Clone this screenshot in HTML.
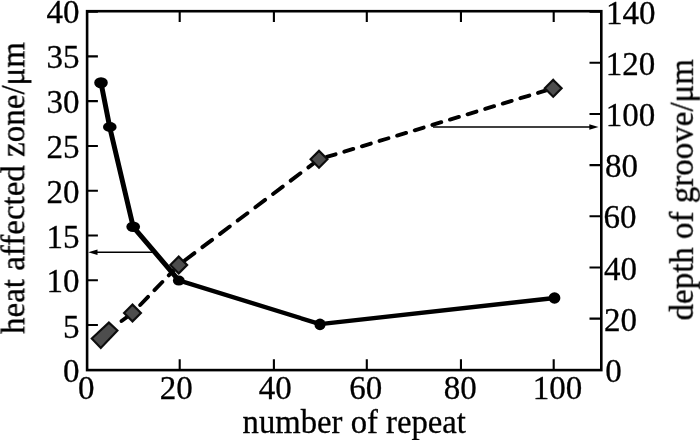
<!DOCTYPE html>
<html><head><meta charset="utf-8"><style>
html,body{margin:0;padding:0;background:#fff;}
svg{display:block;}
text{font-family:'Liberation Serif','Times New Roman',serif;font-size:33px;fill:#000;}
</style></head><body>
<svg width="700" height="440" viewBox="0 0 700 440">
<defs><filter id="b" x="0" y="0" width="700" height="440" filterUnits="userSpaceOnUse"><feGaussianBlur stdDeviation="0.4"/></filter></defs>
<rect width="700" height="440" fill="#fff"/>
<g filter="url(#b)">
<rect x="87.1" y="11.2" width="514.20" height="358.90" fill="none" stroke="#000" stroke-width="2.6"/>
<path d="M179.70 370.1V359.3M179.70 11.2V22.0M273.90 370.1V359.3M273.90 11.2V22.0M366.80 370.1V359.3M366.80 11.2V22.0M460.95 370.1V359.3M460.95 11.2V22.0M553.70 370.1V359.3M553.70 11.2V22.0M87.1 325.03H97.89999999999999M87.1 280.25H97.89999999999999M87.1 235.48H97.89999999999999M87.1 190.70H97.89999999999999M87.1 145.93H97.89999999999999M87.1 101.15H97.89999999999999M87.1 56.38H97.89999999999999M87.1 11.60H97.89999999999999M601.30 318.63H589.50M601.30 267.46H589.50M601.30 216.29H589.50M601.30 165.11H589.50M601.30 113.94H589.50M601.30 62.77H589.50M601.30 11.60H589.50" stroke="#000" stroke-width="2.1" fill="none"/>
<path d="M121.56 321.05L132.50 313.00M140.20 305.00L148.03 296.86M154.48 290.16L162.32 282.02M168.77 275.32L176.60 267.18M184.69 260.49L194.43 253.15M202.36 247.18L212.10 239.84M220.02 233.87L229.77 226.53M237.69 220.56L247.44 213.22M255.36 207.25L265.10 199.90M273.03 193.94L282.77 186.59M290.69 180.63L300.44 173.28M308.36 167.32L318.11 159.97M326.70 156.96L335.60 154.27M344.31 151.63L353.21 148.93M361.92 146.29L370.82 143.59M379.53 140.95L388.43 138.25M397.14 135.61L406.04 132.91M414.75 130.27L423.65 127.58M432.36 124.94L441.26 122.24M449.96 119.60L458.86 116.90M467.57 114.26L476.47 111.56M485.18 108.92L494.08 106.22M502.79 103.58L511.69 100.88M520.40 98.24L529.30 95.55M538.01 92.91L546.91 90.21" stroke="#000" stroke-width="3.9" stroke-linecap="round" fill="none"/>
<path d="M124.1 313L132.5 304.6L140.9 313L132.5 321.4Z" fill="#4e4e4e" stroke="#111" stroke-width="2.2"/>
<path d="M170.29999999999998 265L178.7 256.6L187.1 265L178.7 273.4Z" fill="#4e4e4e" stroke="#111" stroke-width="2.2"/>
<path d="M310.6 159.3L319 150.9L327.4 159.3L319 167.70000000000002Z" fill="#4e4e4e" stroke="#111" stroke-width="2.2"/>
<path d="M544.8000000000001 88.3L553.2 79.89999999999999L561.6 88.3L553.2 96.7Z" fill="#4e4e4e" stroke="#111" stroke-width="2.2"/>
<path d="M91.8 338.5L108.9 322.6L117.4 330.5L100.8 348Z" fill="#4e4e4e" stroke="#111" stroke-width="2.2"/>
<path d="M101 82.8 L109.8 127.5 L133.2 226.8 L178.8 280.4" stroke="#000" stroke-width="5.0" fill="none" stroke-linejoin="round"/>
<path d="M178.8 280.4 L320 324.1 L554.5 298" stroke="#000" stroke-width="4.3" fill="none" stroke-linejoin="round"/>
<ellipse cx="101" cy="82.8" rx="6.8" ry="5.6" fill="#000"/>
<ellipse cx="109.8" cy="127" rx="6.8" ry="4.9" fill="#000"/>
<ellipse cx="133.2" cy="226.8" rx="6.9" ry="5.2" fill="#000"/>
<ellipse cx="178.8" cy="280.6" rx="5.9" ry="5.0" fill="#000"/>
<ellipse cx="320" cy="324.3" rx="5.6" ry="5.9" fill="#000"/>
<ellipse cx="554.5" cy="298" rx="5.9" ry="5.8" fill="#000"/>
<path d="M153 252.3H96" stroke="#000" stroke-width="1.4"/>
<path d="M88.2 252.3L97.5 249.5L97.5 255.1Z" fill="#000"/>
<path d="M433 127H590" stroke="#000" stroke-width="1.4"/>
<path d="M598.5 127L589.3 124.2L589.3 129.8Z" fill="#000"/>
<g stroke="#000" stroke-width="0.3">
<text x="79.6" y="382.05" text-anchor="end">0</text>
<text x="79.6" y="337.65" text-anchor="end">5</text>
<text x="79.6" y="292.15" text-anchor="end">10</text>
<text x="79.6" y="248.20" text-anchor="end">15</text>
<text x="79.6" y="202.85" text-anchor="end">20</text>
<text x="79.6" y="157.65" text-anchor="end">25</text>
<text x="79.6" y="113.05" text-anchor="end">30</text>
<text x="79.6" y="67.65" text-anchor="end">35</text>
<text x="79.6" y="22.75" text-anchor="end">40</text>
<text x="605.35" y="382.05">0</text>
<text x="604.05" y="330.85">20</text>
<text x="604.10" y="279.65">40</text>
<text x="603.60" y="228.45">60</text>
<text x="605.00" y="177.25">80</text>
<text x="605.70" y="126.05">100</text>
<text x="605.70" y="74.85">120</text>
<text x="606.00" y="23.65">140</text>
<text x="86.30" y="399.4" text-anchor="middle">0</text>
<text x="176.20" y="399.4" text-anchor="middle">20</text>
<text x="275.30" y="399.4" text-anchor="middle">40</text>
<text x="365.80" y="399.4" text-anchor="middle">60</text>
<text x="460.30" y="399.4" text-anchor="middle">80</text>
<text x="557.50" y="399.4" text-anchor="middle">100</text>
<text x="242.6" y="433" textLength="223.3" lengthAdjust="spacingAndGlyphs">number of repeat</text>
<text transform="translate(24.3 334) rotate(-90)">heat affected zone/μm</text>
<text transform="translate(692.8 320.5) rotate(-90)">depth of groove/μm</text>
</g>
</g>
</svg>
</body></html>
